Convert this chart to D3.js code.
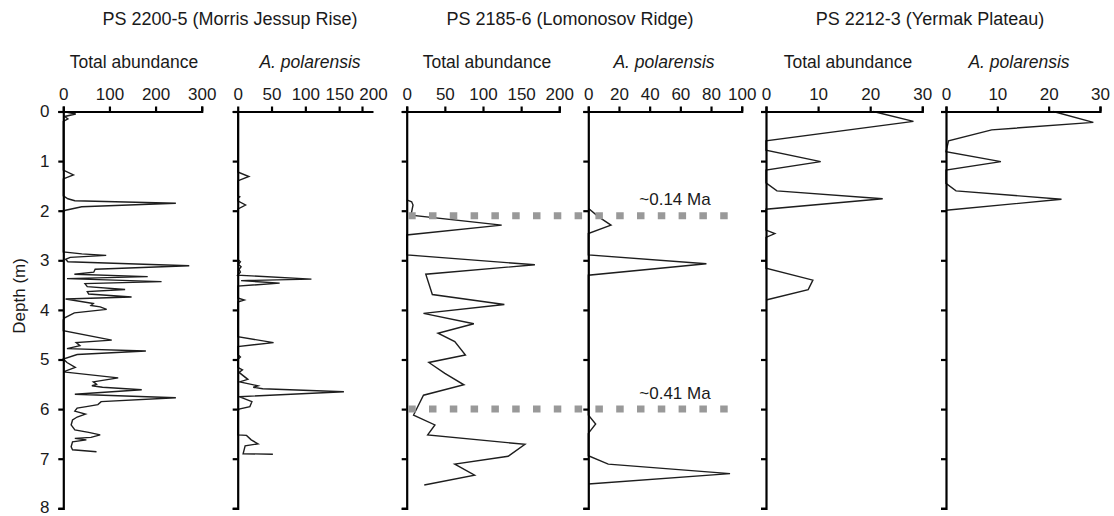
<!DOCTYPE html>
<html>
<head>
<meta charset="utf-8">
<script src="https://cdn.jsdelivr.net/npm/d3@7/dist/d3.min.js"></script>
<style>
  body { margin: 0; background: #fff; }
  svg { display: block; font-family: "Liberation Sans", Arial, Helvetica, sans-serif; }
</style>
</head>
<body>
<svg id="chart" width="1114" height="516"></svg>
<script>
// ---- PS 2200-5 (Morris Jessup Rise) ----
const ps2200TotalDepth = [0, 0.05, 0.10, 0.15, 0.20, 1.18, 1.28, 1.36, 1.70, 1.76, 1.80, 1.85, 1.92, 1.99, 2.02,
  2.83, 2.87, 2.90, 2.94, 2.98, 3.03, 3.11, 3.18, 3.24, 3.28, 3.33, 3.37, 3.43, 3.47, 3.53, 3.59, 3.63, 3.68, 3.74, 3.78,
  3.87, 3.91, 3.94, 3.99, 4.06, 4.16, 4.20, 4.42, 4.61, 4.66, 4.72, 4.78, 4.83, 4.90, 4.99, 5.06, 5.16, 5.25,
  5.37, 5.45, 5.50, 5.53, 5.56, 5.61, 5.70, 5.77, 5.85, 5.91, 5.95, 5.98, 6.04, 6.10, 6.16, 6.22, 6.32, 6.42,
  6.47, 6.52, 6.57, 6.59, 6.62, 6.66, 6.76, 6.82, 6.86];
const ps2200TotalValue = [0, 27, 3, 10, 0, 0, 22, 0, 0, 10, 25, 244, 40, 5, 0,
  0, 40, 93, 15, 5, 10, 273, 69, 66, 24, 183, 8, 213, 47, 52, 134, 52, 55, 148, 5,
  65, 60, 80, 94, 24, 3, 0, 0, 105, 28, 36, 8, 179, 30, 0, 8, 26, 0,
  119, 65, 72, 62, 85, 170, 25, 244, 82, 75, 50, 30, 25, 48, 30, 20, 17, 25,
  55, 80, 60, 25, 50, 20, 17, 20, 72];

const ps2200PolarDepth = [0, 1.22, 1.31, 1.40, 1.70, 1.72, 1.75, 1.80, 1.885, 1.97, 2.98, 3.03, 3.08, 3.13, 3.18,
  3.24, 3.30, 3.38, 3.41, 3.46, 3.52, 3.76, 3.80, 3.84, 4.54, 4.66, 4.74, 4.90, 4.95, 5.00, 5.16, 5.21, 5.26,
  5.40, 5.45, 5.53, 5.56, 5.59, 5.65, 5.75, 5.85, 5.95, 6.00, 6.05, 6.52, 6.53, 6.62, 6.70, 6.74, 6.90, 6.91];
const ps2200PolarValue = [0, 0, 16.5, 0, 0, 3, 0, 0, 11.6, 0, 0, 4, 1, 5, 2,
  4, 0, 109, 5, 62, 0, 0, 9.7, 0, 0, 53, 0, 0, 4, 0, 0, 7, 2,
  15, 3, 30, 23, 37, 157, 2, 21, 18, 2, 0, 0, 13, 20, 30, 11, 8, 52];

// ---- PS 2185-6 (Lomonosov Ridge) ----
const ps2185TotalDepth = [1.78, 1.82, 1.885, 2.09, 2.29, 2.49, 2.89, 3.09, 3.28, 3.69, 3.89, 4.07, 4.28, 4.47, 4.64,
  4.91, 5.06, 5.28, 5.51, 5.72, 6.12, 6.32, 6.52, 6.71, 6.95, 7.11, 7.33, 7.53];
const ps2185TotalValue = [0, 6.5, 8.3, 5.6, 124.5, 0, 0, 168, 25, 33.6, 128, 22, 88, 41, 63,
  77, 29, 50, 75, 22, 9, 37, 27.5, 155, 133, 63, 89, 23];

const ps2185PolarDepth = [1.95, 2.12, 2.29, 2.46, 2.89, 3.07, 3.30, 6.12, 6.30, 6.49, 6.94, 7.11, 7.30, 7.51];
const ps2185PolarValue = [0, 6.5, 14.8, 0, 0, 77, 0, 0, 4.8, 0, 0, 13, 92.4, 0];

// ---- PS 2212-3 (Yermak Plateau) ----
const ps2212TotalDepth = [0, 0.20, 0.59, 0.78, 1.01, 1.18, 1.44, 1.60, 1.76, 1.97, 2.39, 2.46, 2.54, 3.16, 3.40, 3.59, 3.80];
const ps2212TotalValue = [20.6, 28.3, 0, 0, 10.5, 0, 0, 2.1, 22.4, 0, 0, 1.7, 0, 0, 9.0, 8.1, 0];

const ps2212PolarDepth = [0, 0.22, 0.37, 0.59, 0.81, 1.01, 1.18, 1.45, 1.60, 1.77, 1.99];
const ps2212PolarValue = [20.9, 28.7, 8.9, 0.5, 0, 10.7, 0, 0, 1.95, 22.5, 0];

// ---- axes and annotations ----
const depthTicks = [0, 1, 2, 3, 4, 5, 6, 7, 8];
const totalTicks2200 = [0, 100, 200, 300];
const polarTicks2200 = [0, 50, 100, 150, 200];
const totalTicks2185 = [0, 50, 100, 150, 200];
const polarTicks2185 = [0, 20, 40, 60, 80, 100];
const ticks2212 = [0, 10, 20, 30];
const siteTitles = ["PS 2200-5 (Morris Jessup Rise)", "PS 2185-6 (Lomonosov Ridge)", "PS 2212-3 (Yermak Plateau)"];
const markerDepths = [2.1, 6.0];
const markerLabels = ["~0.14 Ma", "~0.41 Ma"];

// ---- layout ----
const svg = d3.select("#chart");
const y = d3.scaleLinear().domain([0, 8]).range([111.5, 508.3]);

const panels = [
  { depth: ps2200TotalDepth, value: ps2200TotalValue, max: 300, ticks: totalTicks2200, x0: 63.3, x1: 201.7, head: "Total abundance", italic: false, hx: 134, depthLabels: true },
  { depth: ps2200PolarDepth, value: ps2200PolarValue, max: 200, ticks: polarTicks2200, x0: 237.7, x1: 373, head: "A. polarensis", italic: true, hx: 310, lastTickShift: -11 },
  { depth: ps2185TotalDepth, value: ps2185TotalValue, max: 200, ticks: totalTicks2185, x0: 406.7, x1: 559.3, head: "Total abundance", italic: false, hx: 487 },
  { depth: ps2185PolarDepth, value: ps2185PolarValue, max: 100, ticks: polarTicks2185, x0: 588.3, x1: 741.7, head: "A. polarensis", italic: true, hx: 664 },
  { depth: ps2212TotalDepth, value: ps2212TotalValue, max: 30, ticks: ticks2212, x0: 766, x1: 922.3, head: "Total abundance", italic: false, hx: 848 },
  { depth: ps2212PolarDepth, value: ps2212PolarValue, max: 30, ticks: ticks2212, x0: 946, x1: 1100, head: "A. polarensis", italic: true, hx: 1019 }
];

const titleX = [230, 570, 930];

svg.selectAll("text.site")
  .data(siteTitles)
  .join("text")
  .attr("class", "site")
  .attr("x", (d, i) => titleX[i])
  .attr("y", 25)
  .attr("text-anchor", "middle")
  .attr("font-size", 18)
  .attr("fill", "#1a1a1a")
  .text(d => d);

panels.forEach(p => {
  p.x = d3.scaleLinear().domain([0, p.max]).range([p.x0, p.x1]);
  const g = svg.append("g");

  // profile line
  const pts = p.depth.map((d, i) => [d, p.value[i]]);
  g.append("path")
    .datum(pts)
    .attr("fill", "none")
    .attr("stroke", "#1e1e1e")
    .attr("stroke-width", 1.4)
    .attr("d", d3.line().x(d => p.x(d[1])).y(d => y(d[0])));

  // top value axis
  const top = g.append("g")
    .attr("transform", `translate(0,${y(0)})`)
    .call(d3.axisTop(p.x).tickValues(p.ticks).tickSize(5).tickSizeOuter(p.lastTickShift ? 0 : 5).tickPadding(6.5).tickFormat(d3.format("d")));
  if (p.lastTickShift) {
    top.selectAll(".tick").filter((d, i, n) => i === n.length - 1)
      .select("line").attr("transform", `translate(${p.lastTickShift},0)`);
  }

  // depth axis
  const left = g.append("g")
    .attr("transform", `translate(${p.x0},0)`)
    .call(d3.axisLeft(y).tickValues(depthTicks).tickSize(5).tickPadding(8.8)
      .tickFormat(p.depthLabels ? d3.format("d") : ""));
  // keep the deepest label inside the frame
  left.selectAll(".tick text").filter(d => d === 8).attr("dy", "0.22em");

  [top, left].forEach(a => {
    a.select(".domain").attr("stroke", "#000").attr("stroke-width", 2.2);
    a.selectAll(".tick line").attr("stroke", "#000").attr("stroke-width", 2.2);
    a.selectAll(".tick text").attr("font-size", 17).attr("fill", "#1a1a1a")
      .attr("font-family", "'Liberation Sans', Arial, sans-serif");
  });

  g.append("text")
    .attr("x", p.hx)
    .attr("y", 68)
    .attr("text-anchor", "middle")
    .attr("font-size", 17.5)
    .attr("font-style", p.italic ? "italic" : "normal")
    .attr("fill", "#1a1a1a")
    .text(p.head);
});

// depth axis title
svg.append("text")
  .attr("transform", `translate(24.5,${y(4) - 14}) rotate(-90)`)
  .attr("text-anchor", "middle")
  .attr("font-size", 17)
  .attr("fill", "#1a1a1a")
  .text("Depth (m)");

// age tie lines across the Lomonosov Ridge record
const xTot = panels[2].x, xPol = panels[3].x;
const markers = svg.append("g");
markers.selectAll("line")
  .data(markerDepths)
  .join("line")
  .attr("x1", xTot(0) + 1.5)
  .attr("x2", xPol(95))
  .attr("y1", d => y(d))
  .attr("y2", d => y(d))
  .attr("stroke", "#999")
  .attr("stroke-width", 7)
  .attr("stroke-dasharray", "7.5,13.3");
markers.selectAll("text")
  .data(markerDepths)
  .join("text")
  .attr("x", xPol(56.5))
  .attr("y", d => y(d) - 10.5)
  .attr("text-anchor", "middle")
  .attr("font-size", 17)
  .attr("fill", "#1a1a1a")
  .text((d, i) => markerLabels[i]);
</script>
</body>
</html>
